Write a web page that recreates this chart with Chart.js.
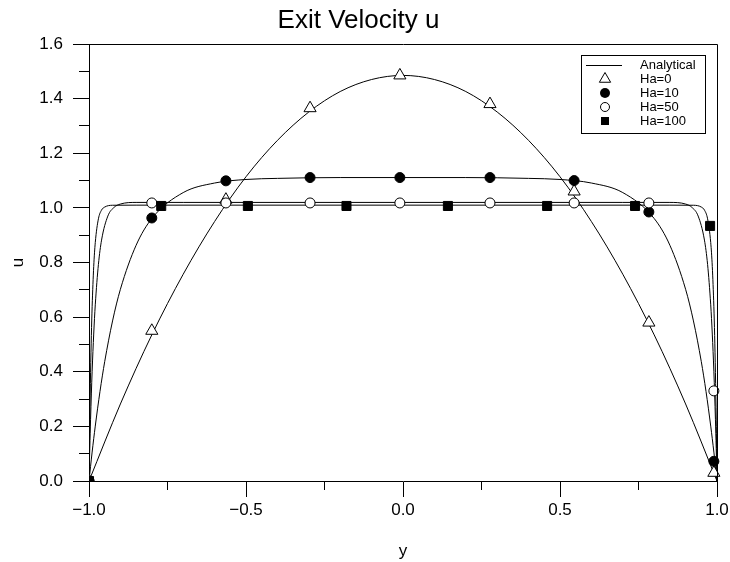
<!DOCTYPE html>
<html>
<head>
<meta charset="utf-8">
<title>Exit Velocity u</title>
<script src="https://cdn.jsdelivr.net/npm/chart.js"></script>
<style>
  html, body { margin: 0; padding: 0; background: #fff; }
  #wrap { width: 730px; height: 562px; }
</style>
</head>
<body>
<div id="wrap"><canvas id="velocity"></canvas></div>
<script>
// ── Data ───────────────────────────────────────────────────

// numerical solution, sampled on the solver grid
const gridY = [-1, -0.80, -0.564, -0.296, -0.01, 0.277, 0.545, 0.783, 0.99];
const ha0U = [0, 0.55, 1.03, 1.365, 1.485, 1.38, 1.06, 0.58, 0.03];
const ha10U = [0, 0.963, 1.099, 1.111, 1.111, 1.111, 1.100, 0.985, 0.072];
const ha50U = [0, 1.018, 1.018, 1.018, 1.018, 1.018, 1.018, 1.018, 0.33];
const gridY100 = [-1, -0.77, -0.494, -0.18, 0.143, 0.459, 0.739, 0.978];
const ha100U = [0, 1.007, 1.007, 1.007, 1.007, 1.007, 1.007, 0.934];

// analytical Hartmann profiles
const exactY0 = [-1, -0.9, -0.8, -0.7, -0.6, -0.5, -0.4, -0.3, -0.2, -0.1, 0,
                 0.1, 0.2, 0.3, 0.4, 0.5, 0.6, 0.7, 0.8, 0.9, 1];
const exactU0 = [0, 0.282, 0.535, 0.757, 0.950, 1.114, 1.247, 1.351, 1.426, 1.470, 1.485,
                 1.470, 1.426, 1.351, 1.247, 1.114, 0.950, 0.757, 0.535, 0.282, 0];

const exactY10 = [-1, -0.99, -0.98, -0.965, -0.95, -0.925, -0.9, -0.85, -0.8, -0.7, -0.6, -0.5, -0.4, -0.2, 0,
                  0.2, 0.4, 0.5, 0.6, 0.7, 0.8, 0.85, 0.9, 0.925, 0.95, 0.965, 0.98, 0.99, 1];
const exactU10 = [0, 0.106, 0.201, 0.328, 0.437, 0.586, 0.702, 0.863, 0.961, 1.056, 1.091, 1.104, 1.108, 1.111, 1.111,
                  1.111, 1.108, 1.104, 1.091, 1.056, 0.961, 0.863, 0.702, 0.586, 0.437, 0.328, 0.201, 0.106, 0];

const exactY50 = [-1, -0.9975, -0.995, -0.99, -0.985, -0.98, -0.97, -0.96, -0.94, -0.92, -0.9, -0.85, -0.7, 0,
                  0.7, 0.85, 0.9, 0.92, 0.94, 0.96, 0.97, 0.98, 0.985, 0.99, 0.995, 0.9975, 1];
const exactU50 = [0, 0.120, 0.226, 0.402, 0.538, 0.645, 0.793, 0.882, 0.970, 1.002, 1.014, 1.020, 1.020, 1.020,
                  1.020, 1.020, 1.014, 1.002, 0.970, 0.882, 0.793, 0.645, 0.538, 0.402, 0.226, 0.120, 0];

const exactY100 = [-1, -0.99875, -0.9975, -0.995, -0.9925, -0.99, -0.985, -0.98, -0.97, -0.96, -0.95, -0.925, -0.85, 0,
                   0.85, 0.925, 0.95, 0.96, 0.97, 0.98, 0.985, 0.99, 0.9925, 0.995, 0.9975, 0.99875, 1];
const exactU100 = [0, 0.119, 0.223, 0.397, 0.533, 0.638, 0.785, 0.873, 0.960, 0.992, 1.003, 1.0096, 1.010, 1.010,
                   1.010, 1.0096, 1.003, 0.992, 0.960, 0.873, 0.785, 0.638, 0.533, 0.397, 0.223, 0.119, 0];

const legendLabels = ['Analytical', 'Ha=0', 'Ha=10', 'Ha=50', 'Ha=100'];

// ── Helpers ────────────────────────────────────────────────

const FONT = "'Liberation Sans', Arial, Helvetica, sans-serif";
const INK = '#000';

const toPoints = (xs, ys) => xs.map((x, i) => ({ x, y: ys[i] }));

const fmtTick = v => (v < 0 ? '\u2212' : '') + Math.abs(v).toFixed(1);

// same rounding Chart.js uses for crisp 1px lines
const crisp = p => Math.round(p - 0.5) + 0.5;

function markerSet(label, xs, ys, style, fill, radius) {
  return {
    label,
    data: toPoints(xs, ys),
    showLine: false,
    pointStyle: style,
    pointRadius: radius,
    pointBackgroundColor: fill,
    pointBorderColor: INK,
    pointBorderWidth: 1,
    clip: { left: 0, top: 8, right: 8, bottom: 0 },
  };
}

function exactSet(label, xs, ys) {
  return {
    label,
    data: toPoints(xs, ys),
    showLine: true,
    borderColor: INK,
    borderWidth: 1,
    pointRadius: 0,
    cubicInterpolationMode: 'monotone',
  };
}

// box outline plus the unlabeled minor ticks
const frameAndMinorTicks = {
  id: 'frameAndMinorTicks',
  afterDraw(chart) {
    const { ctx, chartArea: a, scales: { x, y } } = chart;
    ctx.save();
    ctx.strokeStyle = INK;
    ctx.lineWidth = 1;
    ctx.beginPath();
    const top = crisp(a.top), right = crisp(a.right);
    ctx.moveTo(crisp(a.left), top);
    ctx.lineTo(right, top);
    ctx.lineTo(right, crisp(a.bottom));
    for (let v = 0.1; v < 1.6; v += 0.2) {
      const py = crisp(y.getPixelForValue(v));
      ctx.moveTo(a.left - 10, py);
      ctx.lineTo(a.left, py);
    }
    for (const v of [-0.75, -0.25, 0.25, 0.75]) {
      const px = crisp(x.getPixelForValue(v));
      ctx.moveTo(px, a.bottom);
      ctx.lineTo(px, a.bottom + 9);
    }
    ctx.stroke();
    ctx.restore();
  },
};

// boxed key in the upper right corner
const boxLegend = {
  id: 'boxLegend',
  afterDraw(chart) {
    const { ctx } = chart;
    const bx = 581.5, by = 55.5, bw = 124, bh = 78;
    const symX = 605, textX = 640;
    const rows = [65, 79, 93, 107, 121];
    ctx.save();
    ctx.fillStyle = '#fff';
    ctx.fillRect(bx, by, bw, bh);
    ctx.strokeStyle = INK;
    ctx.lineWidth = 1;
    ctx.strokeRect(bx, by, bw, bh);

    ctx.beginPath();
    ctx.moveTo(586, rows[0] + 0.5);
    ctx.lineTo(622, rows[0] + 0.5);
    ctx.stroke();

    // Ha=0 open triangle
    const r = 6.5;
    ctx.beginPath();
    ctx.moveTo(symX, rows[1] - r);
    ctx.lineTo(symX + r * Math.sin(2 * Math.PI / 3), rows[1] + r / 2);
    ctx.lineTo(symX - r * Math.sin(2 * Math.PI / 3), rows[1] + r / 2);
    ctx.closePath();
    ctx.fill();
    ctx.stroke();

    // Ha=10 filled circle
    ctx.fillStyle = INK;
    ctx.beginPath();
    ctx.arc(symX, rows[2], 5, 0, Math.PI * 2);
    ctx.fill();

    // Ha=50 open circle
    ctx.fillStyle = '#fff';
    ctx.beginPath();
    ctx.arc(symX, rows[3], 4.5, 0, Math.PI * 2);
    ctx.fill();
    ctx.stroke();

    // Ha=100 filled square
    ctx.fillStyle = INK;
    ctx.fillRect(symX - 4, rows[4] - 4, 8, 8);

    ctx.font = '13px ' + FONT;
    ctx.textAlign = 'left';
    ctx.textBaseline = 'middle';
    legendLabels.forEach((t, i) => ctx.fillText(t, textX, rows[i] + 0.5));
    ctx.restore();
  },
};

// ── Chart ──────────────────────────────────────────────────

new Chart(document.getElementById('velocity'), {
  type: 'scatter',
  data: {
    datasets: [
      markerSet('Ha=100', gridY100, ha100U, 'rect', INK, 6.4),
      markerSet('Ha=50', gridY, ha50U, 'circle', '#fff', 5),
      markerSet('Ha=10', gridY, ha10U, 'circle', INK, 5),
      markerSet('Ha=0', gridY, ha0U, 'triangle', '#fff', 7),
      exactSet('Analytical Ha=0', exactY0, exactU0),
      exactSet('Analytical Ha=10', exactY10, exactU10),
      exactSet('Analytical Ha=50', exactY50, exactU50),
      exactSet('Analytical Ha=100', exactY100, exactU100),
    ],
  },
  options: {
    responsive: true,
    maintainAspectRatio: false,
    animation: false,
    events: [],
    layout: { padding: { left: 0, right: 13, top: 0, bottom: 0 } },
    plugins: {
      legend: { display: false },
      tooltip: { enabled: false },
      title: {
        display: true,
        text: 'Exit Velocity u',
        color: INK,
        font: { family: FONT, size: 26, weight: 'normal', lineHeight: 1.2 },
        padding: { top: 5, bottom: 7.8 },
      },
    },
    scales: {
      x: {
        type: 'linear',
        min: -1,
        max: 1,
        afterFit(s) { s.height = 81; s.paddingLeft = 0; s.paddingRight = 0; },
        border: { display: true, color: INK, width: 1 },
        grid: { drawOnChartArea: false, drawTicks: true, tickLength: 16, color: INK },
        ticks: {
          stepSize: 0.5,
          color: INK,
          padding: 3,
          maxRotation: 0,
          font: { family: FONT, size: 17 },
          callback: fmtTick,
        },
        title: {
          display: true,
          text: 'y',
          color: INK,
          font: { family: FONT, size: 17 },
          padding: { top: 0, bottom: 0 },
        },
      },
      y: {
        type: 'linear',
        min: 0,
        max: 1.6,
        afterFit(s) { s.width = 89; s.paddingTop = 0; s.paddingBottom = 0; },
        border: { display: true, color: INK, width: 1 },
        grid: { drawOnChartArea: false, drawTicks: true, tickLength: 16, color: INK },
        ticks: {
          stepSize: 0.2,
          color: INK,
          padding: 10,
          font: { family: FONT, size: 17 },
          callback: fmtTick,
        },
        title: {
          display: true,
          text: 'u',
          color: INK,
          font: { family: FONT, size: 17 },
          padding: { top: 8, bottom: 0 },
        },
      },
    },
  },
  plugins: [frameAndMinorTicks, boxLegend],
});
</script>
</body>
</html>
